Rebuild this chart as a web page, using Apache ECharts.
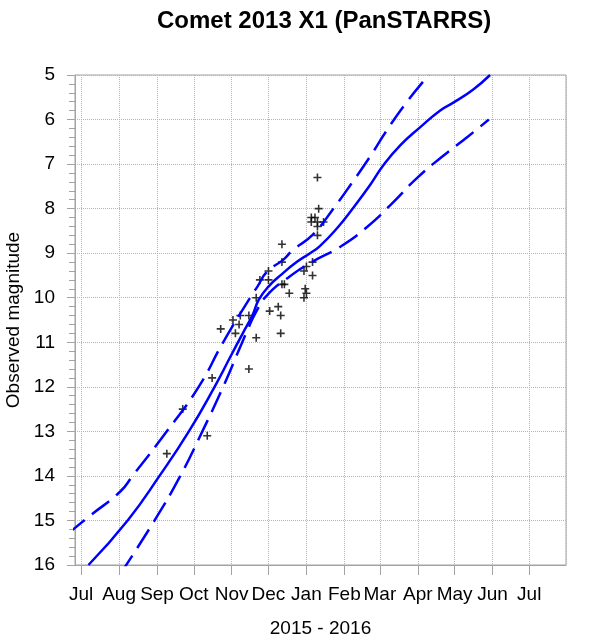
<!DOCTYPE html>
<html>
<head>
<meta charset="utf-8">
<script src="https://cdn.jsdelivr.net/npm/echarts@6/dist/echarts.min.js"></script>
<style>
  html, body { margin: 0; padding: 0; background: #fff; }
  #main { width: 592px; height: 640px; }
</style>
</head>
<body>
<div id="main"></div>
<script>
// month names for the time axis labels
var monthNames = ['Jan', 'Feb', 'Mar', 'Apr', 'May', 'Jun', 'Jul', 'Aug', 'Sep', 'Oct', 'Nov', 'Dec'];

// observations (date, magnitude)
var obsDates = ['2015-09-09', '2015-09-22', '2015-10-12', '2015-10-16', '2015-10-23',
    '2015-11-02', '2015-11-04', '2015-11-07', '2015-11-08', '2015-11-15', '2015-11-15',
    '2015-11-21', '2015-11-21', '2015-11-24', '2015-12-01', '2015-12-01', '2015-12-02',
    '2015-12-09', '2015-12-11', '2015-12-11', '2015-12-12', '2015-12-12', '2015-12-12',
    '2015-12-14', '2015-12-18', '2015-12-30', '2015-12-30', '2015-12-31', '2016-01-01',
    '2016-01-01', '2016-01-05', '2016-01-05', '2016-01-06', '2016-01-06', '2016-01-08',
    '2016-01-10', '2016-01-10', '2016-01-10', '2016-01-10', '2016-01-11', '2016-01-15'];
var obsMags = [13.5, 12.5, 13.1, 11.8, 10.7,
    10.5, 10.8, 10.6, 10.4, 10.4, 11.6,
    10.0, 10.9, 9.6, 9.4, 9.6, 10.3,
    10.2, 10.4, 10.8, 8.8, 9.2, 9.7,
    9.7, 9.9, 9.4, 10.0, 9.8, 9.3,
    9.9, 8.2, 8.3, 9.2, 9.5, 8.2,
    7.3, 8.3, 8.4, 8.6, 8.0, 8.3];

// fitted light curve
var fitDates = ['2015-07-07', '2015-08-08', '2015-09-03', '2015-09-27', '2015-10-18',
    '2015-10-31', '2015-11-10', '2015-11-18', '2015-11-23', '2015-12-01', '2015-12-12',
    '2015-12-24', '2016-01-04', '2016-01-12', '2016-01-26', '2016-02-08', '2016-02-22',
    '2016-03-04', '2016-03-18', '2016-04-03', '2016-04-19', '2016-04-30', '2016-05-16',
    '2016-05-30'];
var fitMags = [16.0, 15.0, 14.0, 13.0, 12.0,
    11.32, 10.8, 10.39, 10.05, 9.75, 9.47,
    9.2, 9.0, 8.84, 8.44, 7.99, 7.47,
    7.02, 6.57, 6.17, 5.8, 5.62, 5.33,
    5.0];

// upper bound (brighter)
var upperDates = ['2015-06-20', '2015-07-08', '2015-08-02', '2015-08-12', '2015-09-09',
    '2015-10-05', '2015-10-25', '2015-11-16', '2015-11-22', '2015-11-30', '2015-12-13',
    '2015-12-21', '2016-01-06', '2016-01-23', '2016-02-08', '2016-02-22', '2016-03-06',
    '2016-03-22', '2016-04-10'];
var upperMags = [15.3, 14.9, 14.35, 14.0, 13.0,
    12.0, 11.0, 10.0, 9.75, 9.41, 9.15,
    8.93, 8.59, 8.0, 7.39, 6.83, 6.27,
    5.64, 5.0];

// lower bound (fainter)
var lowerDates = ['2015-08-02', '2015-08-30', '2015-09-20', '2015-10-08', '2015-10-25',
    '2015-11-08', '2015-11-14', '2015-11-21', '2015-11-30', '2015-12-17', '2016-01-06',
    '2016-01-29', '2016-02-20', '2016-03-11', '2016-03-31', '2016-04-21', '2016-05-12',
    '2016-05-29'];
var lowerMags = [16.2, 15.0, 14.0, 13.0, 12.0,
    11.1, 10.72, 10.31, 9.94, 9.55, 9.19,
    8.85, 8.4, 7.88, 7.32, 6.83, 6.38,
    6.0];

function pairs(dates, mags) {
    var out = [];
    for (var i = 0; i < dates.length; i++) {
        out.push([dates[i], mags[i]]);
    }
    return out;
}

var plusSymbol = 'path://M4,0h2v4h4v2h-4v4h-2v-4h-4v-2h4z';
var gray = '#a3a3a3';

var myChart = echarts.init(document.getElementById('main'));
var option = {
    animation: false,
    backgroundColor: '#fff',
    textStyle: { fontFamily: 'Liberation Sans, Arial, sans-serif' },
    title: {
        text: 'Comet 2013 X1 (PanSTARRS)',
        left: 152,
        top: 4,
        textStyle: { fontSize: 24, fontWeight: 'bold', color: '#000', fontFamily: 'Liberation Sans, Arial, sans-serif' }
    },
    grid: {
        left: 75, right: 26, top: 75, bottom: 75,
        outerBoundsMode: 'none',
        show: true, borderColor: gray, borderWidth: 1
    },
    xAxis: {
        type: 'time',
        min: '2015-06-26',
        max: '2016-07-31',
        splitNumber: 13,
        name: '2015 - 2016',
        nameLocation: 'middle',
        nameGap: 54,
        nameTextStyle: { fontSize: 19, color: '#000' },
        axisLine: { show: true, lineStyle: { color: gray } },
        axisTick: { show: true, length: 10, lineStyle: { color: gray } },
        axisLabel: {
            fontSize: 19, color: '#000', margin: 20, hideOverlap: false,
            formatter: function (val) {
                var d = new Date(val);
                return d.getDate() === 1 ? monthNames[d.getMonth()] : '';
            }
        },
        splitLine: { show: true, lineStyle: { color: '#b5b5b5', type: 'dotted' } }
    },
    yAxis: {
        type: 'value',
        inverse: true,
        min: 5,
        max: 16,
        interval: 1,
        name: 'Observed magnitude',
        nameLocation: 'middle',
        nameGap: 52,
        nameTextStyle: { fontSize: 19, color: '#000' },
        axisLine: { show: true, lineStyle: { color: gray } },
        axisTick: { show: true, length: 8, lineStyle: { color: gray } },
        minorTick: { show: true, splitNumber: 5, length: 6, lineStyle: { color: gray } },
        axisLabel: { fontSize: 19, color: '#000', margin: 20 },
        splitLine: { show: true, lineStyle: { color: '#b5b5b5', type: 'dotted' } }
    },
    series: [
        {
            name: 'upper',
            type: 'line',
            smooth: true,
            showSymbol: false,
            data: pairs(upperDates, upperMags),
            lineStyle: { color: '#0000ff', width: 2.5, type: [22, 9] }
        },
        {
            name: 'fit',
            type: 'line',
            smooth: true,
            showSymbol: false,
            data: pairs(fitDates, fitMags),
            lineStyle: { color: '#0000ff', width: 2.5 }
        },
        {
            name: 'lower',
            type: 'line',
            smooth: true,
            showSymbol: false,
            data: pairs(lowerDates, lowerMags),
            lineStyle: { color: '#0000ff', width: 2.5, type: [22, 9] }
        },
        {
            name: 'obs',
            type: 'scatter',
            symbol: plusSymbol,
            symbolSize: 8,
            data: pairs(obsDates, obsMags),
            itemStyle: { color: '#000' }
        }
    ]
};
myChart.setOption(option);
</script>
</body>
</html>
